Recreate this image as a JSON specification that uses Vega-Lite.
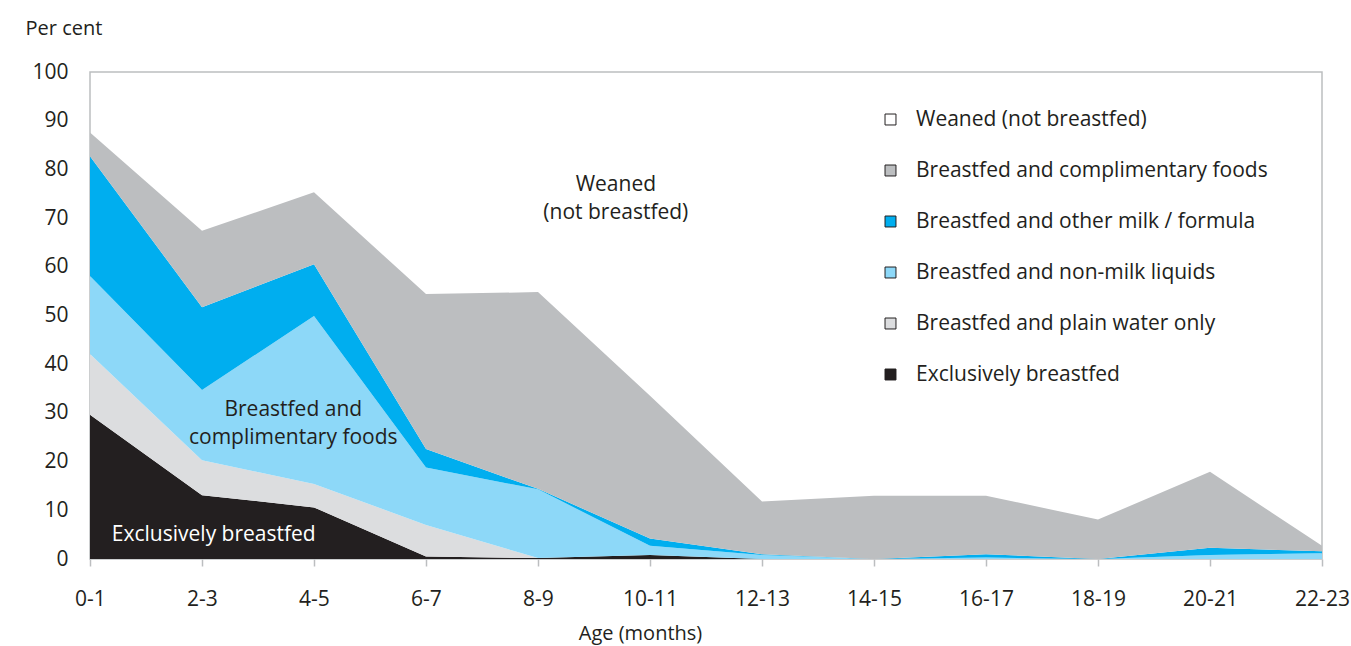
{
  "$schema": "https://vega.github.io/schema/vega-lite/v6.json",
  "width": 1232,
  "height": 487,
  "autosize": "none",
  "padding": {"left": 90, "top": 72, "right": 29, "bottom": 87},
  "background": "white",
  "config": {
    "font": "Open Sans",
    "view": {"stroke": "#bcbec0", "strokeWidth": 1.5},
    "axis": {"grid": false, "labelColor": "#231f20", "titleColor": "#231f20", "labelFont": "Open Sans", "titleFont": "Open Sans", "titleFontWeight": "normal"}
  },
  "datasets": {
    "main": [
      {"m": 0, "s": "Exclusively breastfed", "k": 1, "v": 29.6},
      {"m": 0, "s": "Breastfed and plain water only", "k": 2, "v": 12.5},
      {"m": 0, "s": "Breastfed and non-milk liquids", "k": 3, "v": 16.0},
      {"m": 0, "s": "Breastfed and other milk / formula", "k": 4, "v": 24.6},
      {"m": 0, "s": "Breastfed and complimentary foods", "k": 5, "v": 4.9},
      {"m": 2, "s": "Exclusively breastfed", "k": 1, "v": 13.1},
      {"m": 2, "s": "Breastfed and plain water only", "k": 2, "v": 7.2},
      {"m": 2, "s": "Breastfed and non-milk liquids", "k": 3, "v": 14.4},
      {"m": 2, "s": "Breastfed and other milk / formula", "k": 4, "v": 17.0},
      {"m": 2, "s": "Breastfed and complimentary foods", "k": 5, "v": 15.7},
      {"m": 4, "s": "Exclusively breastfed", "k": 1, "v": 10.6},
      {"m": 4, "s": "Breastfed and plain water only", "k": 2, "v": 4.8},
      {"m": 4, "s": "Breastfed and non-milk liquids", "k": 3, "v": 34.5},
      {"m": 4, "s": "Breastfed and other milk / formula", "k": 4, "v": 10.6},
      {"m": 4, "s": "Breastfed and complimentary foods", "k": 5, "v": 14.8},
      {"m": 6, "s": "Exclusively breastfed", "k": 1, "v": 0.5},
      {"m": 6, "s": "Breastfed and plain water only", "k": 2, "v": 6.5},
      {"m": 6, "s": "Breastfed and non-milk liquids", "k": 3, "v": 11.8},
      {"m": 6, "s": "Breastfed and other milk / formula", "k": 4, "v": 3.8},
      {"m": 6, "s": "Breastfed and complimentary foods", "k": 5, "v": 31.8},
      {"m": 8, "s": "Exclusively breastfed", "k": 1, "v": 0.2},
      {"m": 8, "s": "Breastfed and plain water only", "k": 2, "v": 0},
      {"m": 8, "s": "Breastfed and non-milk liquids", "k": 3, "v": 14.1},
      {"m": 8, "s": "Breastfed and other milk / formula", "k": 4, "v": 0.1},
      {"m": 8, "s": "Breastfed and complimentary foods", "k": 5, "v": 40.4},
      {"m": 10, "s": "Exclusively breastfed", "k": 1, "v": 0.8},
      {"m": 10, "s": "Breastfed and plain water only", "k": 2, "v": 0},
      {"m": 10, "s": "Breastfed and non-milk liquids", "k": 3, "v": 1.9},
      {"m": 10, "s": "Breastfed and other milk / formula", "k": 4, "v": 1.5},
      {"m": 10, "s": "Breastfed and complimentary foods", "k": 5, "v": 29.3},
      {"m": 12, "s": "Exclusively breastfed", "k": 1, "v": 0},
      {"m": 12, "s": "Breastfed and plain water only", "k": 2, "v": 0},
      {"m": 12, "s": "Breastfed and non-milk liquids", "k": 3, "v": 0.8},
      {"m": 12, "s": "Breastfed and other milk / formula", "k": 4, "v": 0.2},
      {"m": 12, "s": "Breastfed and complimentary foods", "k": 5, "v": 10.8},
      {"m": 14, "s": "Exclusively breastfed", "k": 1, "v": 0},
      {"m": 14, "s": "Breastfed and plain water only", "k": 2, "v": 0},
      {"m": 14, "s": "Breastfed and non-milk liquids", "k": 3, "v": 0},
      {"m": 14, "s": "Breastfed and other milk / formula", "k": 4, "v": 0},
      {"m": 14, "s": "Breastfed and complimentary foods", "k": 5, "v": 13.0},
      {"m": 16, "s": "Exclusively breastfed", "k": 1, "v": 0},
      {"m": 16, "s": "Breastfed and plain water only", "k": 2, "v": 0},
      {"m": 16, "s": "Breastfed and non-milk liquids", "k": 3, "v": 0.3},
      {"m": 16, "s": "Breastfed and other milk / formula", "k": 4, "v": 0.7},
      {"m": 16, "s": "Breastfed and complimentary foods", "k": 5, "v": 12.0},
      {"m": 18, "s": "Exclusively breastfed", "k": 1, "v": 0},
      {"m": 18, "s": "Breastfed and plain water only", "k": 2, "v": 0},
      {"m": 18, "s": "Breastfed and non-milk liquids", "k": 3, "v": 0},
      {"m": 18, "s": "Breastfed and other milk / formula", "k": 4, "v": 0},
      {"m": 18, "s": "Breastfed and complimentary foods", "k": 5, "v": 8.1},
      {"m": 20, "s": "Exclusively breastfed", "k": 1, "v": 0},
      {"m": 20, "s": "Breastfed and plain water only", "k": 2, "v": 0},
      {"m": 20, "s": "Breastfed and non-milk liquids", "k": 3, "v": 0.8},
      {"m": 20, "s": "Breastfed and other milk / formula", "k": 4, "v": 1.5},
      {"m": 20, "s": "Breastfed and complimentary foods", "k": 5, "v": 15.6},
      {"m": 22, "s": "Exclusively breastfed", "k": 1, "v": 0},
      {"m": 22, "s": "Breastfed and plain water only", "k": 2, "v": 0},
      {"m": 22, "s": "Breastfed and non-milk liquids", "k": 3, "v": 1.2},
      {"m": 22, "s": "Breastfed and other milk / formula", "k": 4, "v": 0.4},
      {"m": 22, "s": "Breastfed and complimentary foods", "k": 5, "v": 1.1}
    ],
    "notes": [
      {"m": 9.39, "v": 76.8, "t": ["Weaned", "(not breastfed)"], "c": "dark"},
      {"m": 3.63, "v": 30.6, "t": ["Breastfed and", "complimentary foods"], "c": "dark"},
      {"m": 2.21, "v": 4.9, "t": ["Exclusively breastfed"], "c": "light"}
    ]
  },
  "layer": [
    {
      "data": {"name": "main"},
      "mark": {"type": "area", "interpolate": "linear", "opacity": 1},
      "encoding": {
        "x": {
          "field": "m", "type": "quantitative",
          "scale": {"domain": [0, 22], "nice": false, "zero": false},
          "axis": {
            "values": [0, 2, 4, 6, 8, 10, 12, 14, 16, 18, 20, 22],
            "labelExpr": "datum.value + '-' + (datum.value + 1)",
            "domain": false, "ticks": true, "tickColor": "#bcbec0", "tickSize": 7, "tickWidth": 1.5,
            "labelFontSize": 21, "labelPadding": 33, "labelBaseline": "middle", "labelFlush": false,
            "title": "Age (months)", "titleFontSize": 20, "titleX": 550, "titleY": 74, "titleBaseline": "middle", "titleAnchor": null, "titleAlign": "center"
          }
        },
        "y": {
          "field": "v", "type": "quantitative", "stack": "zero",
          "scale": {"domain": [0, 100], "nice": false},
          "axis": {
            "values": [0, 10, 20, 30, 40, 50, 60, 70, 80, 90, 100],
            "domain": false, "ticks": false, "labelFontSize": 21, "labelPadding": 22,
            "title": "Per cent", "titleAngle": 0, "titleFontSize": 20, "titleX": -65, "titleY": -44,
            "titleAlign": "left", "titleBaseline": "middle", "titleAnchor": null
          }
        },
        "order": {"field": "k", "type": "quantitative"},
        "color": {
          "field": "s", "type": "nominal",
          "scale": {
            "domain": ["Weaned (not breastfed)", "Breastfed and complimentary foods", "Breastfed and other milk / formula", "Breastfed and non-milk liquids", "Breastfed and plain water only", "Exclusively breastfed"],
            "range": ["#ffffff", "#bcbec0", "#00aeef", "#8dd8f8", "#dcdddf", "#231f20"]
          },
          "legend": {
            "title": null, "orient": "none", "legendX": 790, "legendY": 37,
            "symbolType": "square", "symbolSize": 120, "symbolStrokeColor": "#231f20", "symbolStrokeWidth": 1,
            "symbolOpacity": 1,
            "labelFontSize": 21, "labelColor": "#231f20", "labelFont": "Open Sans", "labelOffset": 15,
            "rowPadding": 29, "labelLimit": 500
          }
        }
      }
    },
    {
      "data": {"name": "notes"},
      "mark": {"type": "text", "fontSize": 21, "align": "center", "baseline": "middle", "lineHeight": 28, "font": "Open Sans"},
      "encoding": {
        "x": {"field": "m", "type": "quantitative"},
        "y": {"field": "v", "type": "quantitative"},
        "text": {"field": "t"},
        "color": {
          "field": "c", "type": "nominal",
          "scale": {"domain": ["dark", "light"], "range": ["#231f20", "#ffffff"]},
          "legend": null
        }
      }
    }
  ],
  "resolve": {"scale": {"color": "independent"}}
}
